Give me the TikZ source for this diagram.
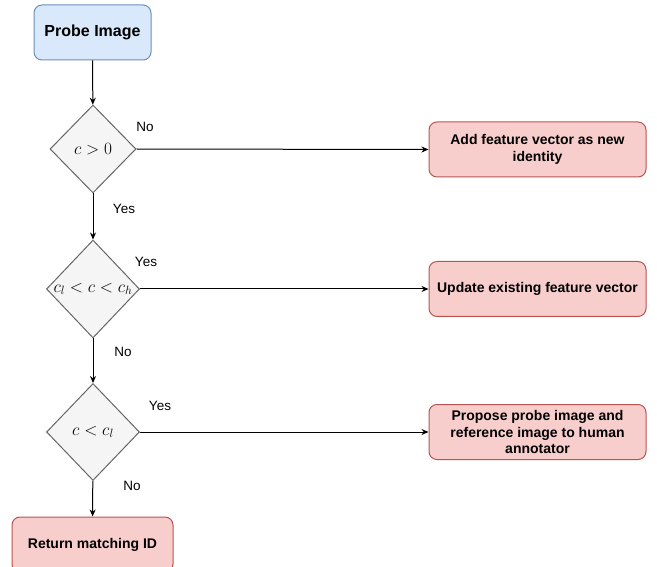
\documentclass[tikz,border=0pt]{standalone}
\usepackage{amsmath}
\usepackage{fontspec}
\setmainfont{Liberation Sans}
\usetikzlibrary{arrows.meta,shapes.geometric}
\definecolor{bluefill}{HTML}{DAE8FC}
\definecolor{blueline}{HTML}{6C8EBF}
\definecolor{redfill}{HTML}{F8CECC}
\definecolor{redline}{HTML}{B85450}
\definecolor{greyfill}{HTML}{F5F5F5}
\definecolor{greyline}{HTML}{666666}

\begin{document}
\begin{tikzpicture}[x=1pt,y=-1pt,line width=1pt,>={Stealth[length=7pt,width=6pt]}]
\useasboundingbox (0,0) rectangle (657,567);
\tikzstyle{startbox}=[rectangle,rounded corners=8pt,draw=blueline,fill=bluefill,minimum width=117pt,minimum height=55pt,font=\fontsize{16}{19}\selectfont\bfseries]
\tikzstyle{actbox}=[rectangle,rounded corners=8pt,draw=redline,fill=redfill,minimum width=217pt,minimum height=55pt,align=center,inner sep=2pt,font=\fontsize{14}{16.5}\selectfont\bfseries]
\tikzstyle{test}=[diamond,draw=greyline,fill=greyfill,inner sep=0pt,label={[font=\fontsize{17}{20}\selectfont]center:#1}]
\tikzstyle{answer}=[font=\fontsize{13.5}{16}\selectfont,inner sep=0pt]
\tikzstyle{flow}=[->,black]
\node[startbox] (probe) at (92.5,32.5) {Probe Image};
\node[test={$c>0$},minimum width=86pt,minimum height=88pt] (d1) at (93,149) {};
\node[test={$c_l<c<c_h$},minimum width=93pt,minimum height=98pt] (d2) at (93,289) {};
\node[test={$c<c_l$},minimum width=93pt,minimum height=97pt] (d3) at (93,432) {};
\node[actbox,minimum width=161pt] (ret) at (92.5,544.5) {Return matching ID};
\node[actbox] (add) at (537.5,149.5) {Add feature vector as new\\identity};
\node[actbox] (upd) at (537.5,289) {Update existing feature vector};
\node[actbox] (prop) at (537.5,432) {Propose probe image and\\reference image to human\\annotator};
\node[answer] (no1) at (145,127) {No};
\node[answer] (yes1) at (124,209) {Yes};
\node[answer] (yes2) at (146,262) {Yes};
\node[answer] (no2) at (123,352) {No};
\node[answer] (yes3) at (160,406) {Yes};
\node[answer] (no3) at (132,486) {No};
\draw[flow] (probe) -- (d1);
\draw[flow] (d1) -- (d2);
\draw[flow] (d2) -- (d3);
\draw[flow] (d3) -- (ret);
\draw[flow] (d1.east) -- (add.west);
\draw[flow] (d2.east) -- (upd.west);
\draw[flow] (d3.east) -- (prop.west);
\end{tikzpicture}
\end{document}
